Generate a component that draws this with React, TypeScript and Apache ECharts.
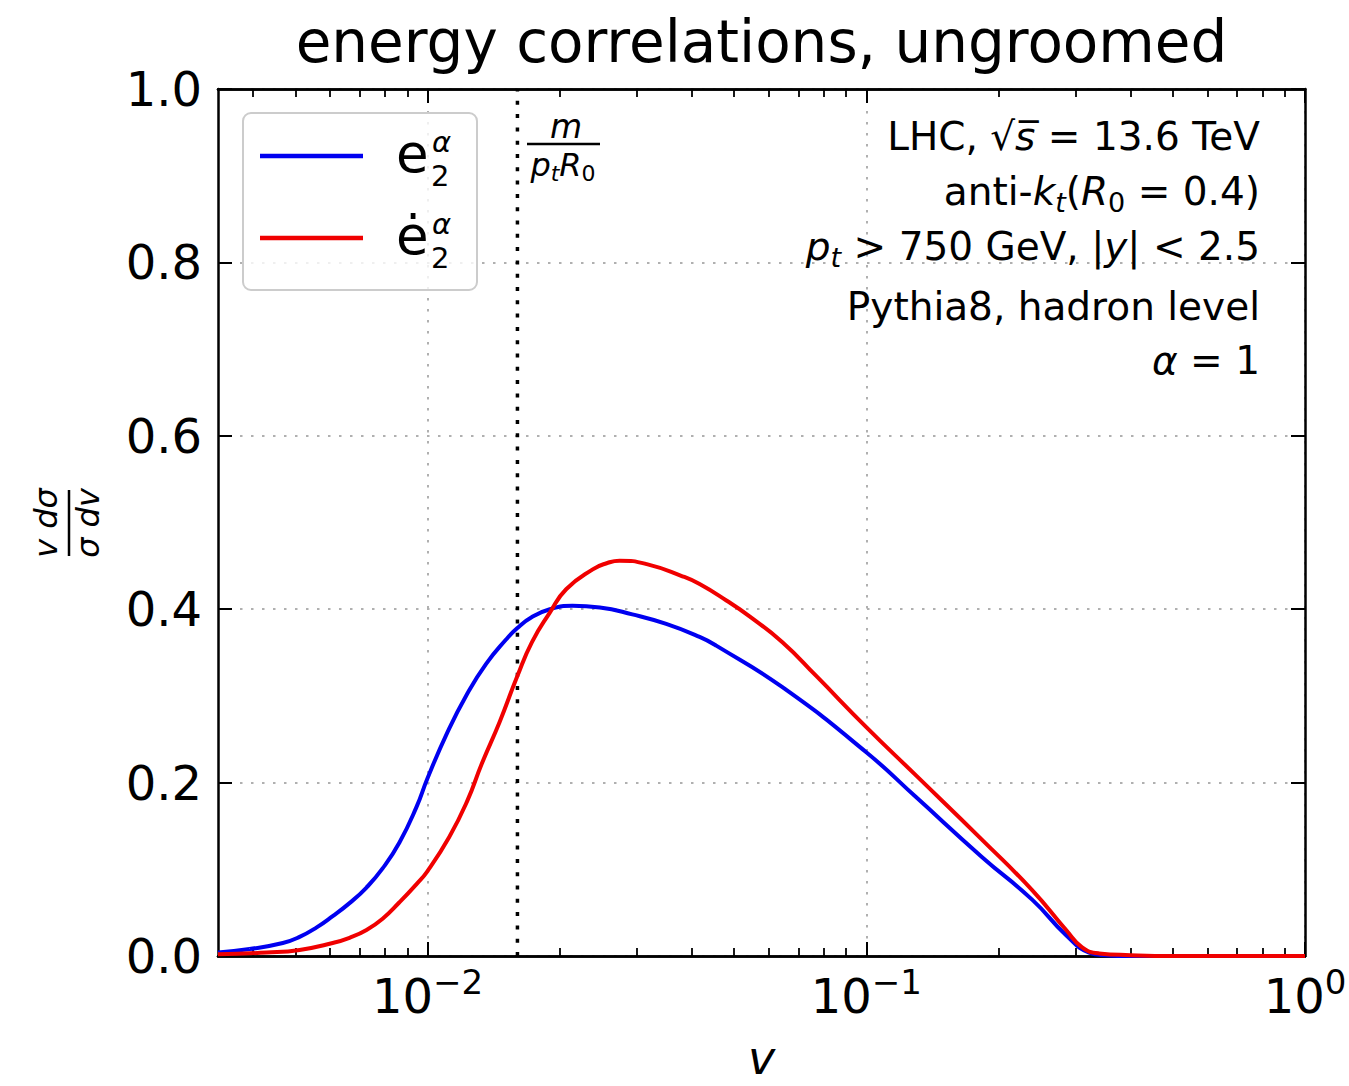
import React, { useEffect, useRef } from 'react';
import * as echarts from 'echarts';

// ---------- data ----------
const X_MIN = 0.00333;
const X_MAX = 1;
const X_MAJOR = [0.01, 0.1, 1];
const X_MAJOR_EXP = ['−2', '−1', '0'];
const X_MINOR = [
  0.004, 0.005, 0.006, 0.007, 0.008, 0.009,
  0.02, 0.03, 0.04, 0.05, 0.06, 0.07, 0.08, 0.09,
  0.2, 0.3, 0.4, 0.5, 0.6, 0.7, 0.8, 0.9,
];
const Y_MIN = 0;
const Y_MAX = 1;
const Y_STEP = 0.2;

// position of the m/(p_t R_0) marker
const M_OVER_PTR0 = 0.01603;
const MARKER_Y = [0, 1];

const V_BLUE = [0.00333, 0.00393, 0.00468, 0.00511, 0.00559, 0.00608, 0.00664, 0.00726, 0.0079, 0.00863, 0.00944, 0.01, 0.0111, 0.0123, 0.0136, 0.0151, 0.016, 0.0173, 0.019, 0.0214, 0.0247, 0.0293, 0.035, 0.0417, 0.0455, 0.0644, 0.1, 0.13, 0.1837, 0.2388, 0.2855, 0.3221, 0.35, 0.4, 0.5, 0.7, 1.0];
const Y_BLUE = [0.004, 0.008, 0.015, 0.022, 0.033, 0.046, 0.061, 0.079, 0.101, 0.131, 0.172, 0.205, 0.258, 0.302, 0.337, 0.365, 0.378, 0.391, 0.4, 0.404, 0.402, 0.394, 0.383, 0.368, 0.358, 0.31, 0.235, 0.183, 0.114, 0.065, 0.024, 0.004, 0.001, 0.0, 0.0, 0.0, 0.0];

const V_RED = [0.00333, 0.0043, 0.00511, 0.00608, 0.00664, 0.00726, 0.0079, 0.00863, 0.00944, 0.01, 0.0112, 0.0123, 0.0133, 0.0146, 0.016, 0.0173, 0.019, 0.0207, 0.0238, 0.0256, 0.0274, 0.0316, 0.0381, 0.0417, 0.048, 0.0541, 0.0644, 0.0769, 0.1, 0.13, 0.1837, 0.2388, 0.2855, 0.3105, 0.3395, 0.4, 0.5, 0.7, 1.0];
const Y_RED = [0.002, 0.004, 0.007, 0.015, 0.021, 0.03, 0.043, 0.062, 0.083, 0.098, 0.137, 0.178, 0.222, 0.27, 0.322, 0.362, 0.396, 0.423, 0.446, 0.453, 0.456, 0.452, 0.438, 0.429, 0.41, 0.392, 0.362, 0.323, 0.264, 0.208, 0.134, 0.076, 0.03, 0.01, 0.003, 0.001, 0, 0, 0];

const SERIES_NAMES = ['e₂^α', 'ė₂^α'];
const SERIES_COLORS = ['#0000f0', '#f00000'];

const TITLE = 'energy correlations, ungroomed';
const INFO_LINES = [
  '{n|LHC, √}{i|s̅}{n| = 13.6 TeV}',
  '{n|anti-}{i|k}{subi|t}{n|(}{i|R}{sub|0}{n| = 0.4)}',
  '{i|p}{subi|t}{n| > 750 GeV, |}{i|y}{n|| < 2.5}',
  '{n|Pythia8, hadron level}',
  '{i|α}{n| = 1}',
];

const F = "'DejaVu Sans', 'Noto Sans', sans-serif";

function xLabel(val: number): string {
  const i = X_MAJOR.findIndex((m) => Math.abs(Math.log10(val) - Math.log10(m)) < 1e-6);
  return i >= 0 ? `{b|10}{s|${X_MAJOR_EXP[i]}}` : '';
}

export default function App() {
  const ref = useRef<HTMLDivElement>(null);

  useEffect(() => {
    if (!ref.current) return;
    const chart = echarts.init(ref.current, undefined, { renderer: 'svg' });

    const axisLine = { show: true, onZero: false, lineStyle: { color: '#000', width: 2.5 } };
    const gridLine = { show: true, lineStyle: { color: '#b0b0b0', width: 2, type: [2.5, 8.5] } };
    const majorTick = { show: true, inside: true, length: 14, lineStyle: { color: '#000', width: 2 }, customValues: X_MAJOR };
    const minorTick = { show: true, inside: true, length: 8, lineStyle: { color: '#000', width: 1.8 }, customValues: X_MINOR };

    const baseX = { type: 'log', logBase: 10, min: X_MIN, max: X_MAX, gridIndex: 0, minorTick: { show: false } };

    const info = INFO_LINES.map((t, k) => ({
      type: 'text',
      x: 1260,
      y: [136, 191, 246, 306, 360][k],
      z: 100,
      style: {
        text: t,
        align: 'right',
        verticalAlign: 'middle',
        fontFamily: F,
        fontSize: 39,
        fill: '#000',
        rich: {
          n: { fontFamily: F, fontSize: 39, fill: '#000', verticalAlign: 'middle' },
          i: { fontFamily: F, fontSize: 39, fontStyle: 'italic', fill: '#000', verticalAlign: 'middle' },
          sub: { fontFamily: F, fontSize: 27, fill: '#000', verticalAlign: 'middle', padding: [22, 0, 0, 0] },
          subi: { fontFamily: F, fontSize: 27, fontStyle: 'italic', fill: '#000', verticalAlign: 'middle', padding: [22, 0, 0, 0] },
        },
      },
    }));

    const smallText = (text: string, x: number, y: number, italic: boolean) => ({
      type: 'text',
      x,
      y,
      z: 101,
      style: { text, fontFamily: F, fontSize: 29, fontStyle: italic ? 'italic' : 'normal', fill: '#000', align: 'left', verticalAlign: 'middle' },
    });

    const legendLabel = (base: string, y: number) => [
      {
        type: 'text',
        x: 396,
        y: y - 4,
        z: 101,
        style: { text: base, fontFamily: F, fontSize: 53, fill: '#000', align: 'left', verticalAlign: 'middle' },
      },
      smallText('α', 432, y - 15.5, true),
      smallText('2', 431, y + 19, false),
    ];

    const option: any = {
      animation: false,
      backgroundColor: '#fff',
      grid: { left: 218, right: 44, top: 89, bottom: 130, containLabel: false, outerBoundsMode: 'none' },
      xAxis: [
        {
          ...baseX,
          position: 'bottom',
          name: 'v',
          nameLocation: 'middle',
          nameGap: 102,
          nameTextStyle: { fontFamily: F, fontStyle: 'italic', fontSize: 46, color: '#000', verticalAlign: 'middle' },
          axisLine,
          axisTick: majorTick,
          axisLabel: {
            show: true,
            customValues: X_MAJOR,
            margin: 9,
            formatter: xLabel,
            rich: {
              b: { fontFamily: F, fontSize: 48, color: '#000', verticalAlign: 'middle' },
              s: { fontFamily: F, fontSize: 34, color: '#000', verticalAlign: 'middle', padding: [0, 0, 27, 0] },
            },
          },
          splitLine: gridLine,
        },
        { ...baseX, position: 'top', axisLine, axisTick: majorTick, axisLabel: { show: false }, splitLine: { show: false } },
        { ...baseX, position: 'bottom', axisLine, axisTick: minorTick, axisLabel: { show: false }, splitLine: { show: false } },
        { ...baseX, position: 'top', axisLine, axisTick: minorTick, axisLabel: { show: false }, splitLine: { show: false } },
      ],
      yAxis: [
        {
          type: 'value',
          min: Y_MIN,
          max: Y_MAX,
          interval: Y_STEP,
          position: 'left',
          axisLine,
          axisTick: { show: true, inside: true, length: 14, lineStyle: { color: '#000', width: 2 } },
          axisLabel: {
            show: true,
            margin: 16,
            fontFamily: F,
            fontSize: 48,
            color: '#000',
            showMinLabel: true,
            showMaxLabel: true,
            formatter: (v: number) => v.toFixed(1),
          },
          splitLine: gridLine,
        },
        {
          type: 'value',
          min: Y_MIN,
          max: Y_MAX,
          interval: Y_STEP,
          position: 'right',
          axisLine,
          axisTick: { show: true, inside: true, length: 14, lineStyle: { color: '#000', width: 2 } },
          axisLabel: { show: false },
          splitLine: { show: false },
        },
      ],
      series: [
        {
          type: 'line',
          name: 'm/(pt R0)',
          xAxisIndex: 0,
          yAxisIndex: 0,
          data: MARKER_Y.map((y) => [M_OVER_PTR0, y]),
          symbol: 'none',
          showSymbol: false,
          silent: true,
          lineStyle: { color: '#000', width: 3.5, type: [4, 9.3] },
          z: 2,
        },
        {
          type: 'line',
          name: SERIES_NAMES[0],
          xAxisIndex: 0,
          yAxisIndex: 0,
          data: V_BLUE.map((v, i) => [v, Y_BLUE[i]]),
          symbol: 'none',
          showSymbol: false,
          smooth: 0.5,
          lineStyle: { color: SERIES_COLORS[0], width: 4 },
          itemStyle: { color: SERIES_COLORS[0] },
          z: 3,
        },
        {
          type: 'line',
          name: SERIES_NAMES[1],
          xAxisIndex: 0,
          yAxisIndex: 0,
          data: V_RED.map((v, i) => [v, Y_RED[i]]),
          symbol: 'none',
          showSymbol: false,
          smooth: 0.5,
          lineStyle: { color: SERIES_COLORS[1], width: 4 },
          itemStyle: { color: SERIES_COLORS[1] },
          z: 4,
        },
      ],
      graphic: {
        elements: [
          {
            type: 'text',
            x: 761.5,
            y: 42,
            z: 100,
            style: { text: TITLE, fontFamily: F, fontSize: 58, fill: '#000', align: 'center', verticalAlign: 'middle' },
          },
          // legend box
          {
            type: 'rect',
            z: 99,
            shape: { x: 243, y: 113, width: 234, height: 177, r: 8 },
            style: { fill: 'rgba(255,255,255,0.8)', stroke: '#cccccc', lineWidth: 2 },
          },
          { type: 'line', z: 100, shape: { x1: 260, y1: 156, x2: 363, y2: 156 }, style: { stroke: SERIES_COLORS[0], lineWidth: 4.5 } },
          { type: 'line', z: 100, shape: { x1: 260, y1: 238, x2: 363, y2: 238 }, style: { stroke: SERIES_COLORS[1], lineWidth: 4.5 } },
          ...legendLabel('e', 157),
          ...legendLabel('ė', 239),
          ...info,
          {
            type: 'group',
            z: 100,
            children: [
              {
                type: 'text',
                x: 566,
                y: 126,
                style: { text: 'm', fontFamily: F, fontSize: 33, fontStyle: 'italic', fill: '#000', align: 'center', verticalAlign: 'middle' },
              },
              { type: 'line', shape: { x1: 527, y1: 144, x2: 600, y2: 144 }, style: { stroke: '#000', lineWidth: 2.5 } },
              {
                type: 'text',
                x: 563,
                y: 165,
                style: {
                  text: '{i|p}{s|t}{i|R}{s0|0}',
                  align: 'center',
                  verticalAlign: 'middle',
                  fontFamily: F,
                  fontSize: 32,
                  fill: '#000',
                  rich: {
                    i: { fontFamily: F, fontSize: 32, fontStyle: 'italic', fill: '#000', verticalAlign: 'middle' },
                    s: { fontFamily: F, fontSize: 22, fontStyle: 'italic', fill: '#000', verticalAlign: 'middle', padding: [16, 0, 0, 0] },
                    s0: { fontFamily: F, fontSize: 22, fill: '#000', verticalAlign: 'middle', padding: [16, 0, 0, 0] },
                  },
                },
              },
            ],
          },
          {
            type: 'group',
            x: 69,
            y: 523,
            rotation: Math.PI / 2,
            z: 100,
            children: [
              {
                type: 'text',
                x: 0,
                y: -23,
                style: { text: 'v dσ', fontFamily: F, fontSize: 32, fontStyle: 'italic', fill: '#000', align: 'center', verticalAlign: 'middle' },
              },
              { type: 'line', shape: { x1: -33, y1: 0, x2: 33, y2: 0 }, style: { stroke: '#000', lineWidth: 2.5 } },
              {
                type: 'text',
                x: 0,
                y: 19,
                style: { text: 'σ dv', fontFamily: F, fontSize: 32, fontStyle: 'italic', fill: '#000', align: 'center', verticalAlign: 'middle' },
              },
            ],
          },
        ],
      },
    };

    chart.setOption(option);
    return () => chart.dispose();
  }, []);

  return <div ref={ref} style={{ position: 'absolute', left: 0, top: 0, width: 1349, height: 1086 }} />;
}
